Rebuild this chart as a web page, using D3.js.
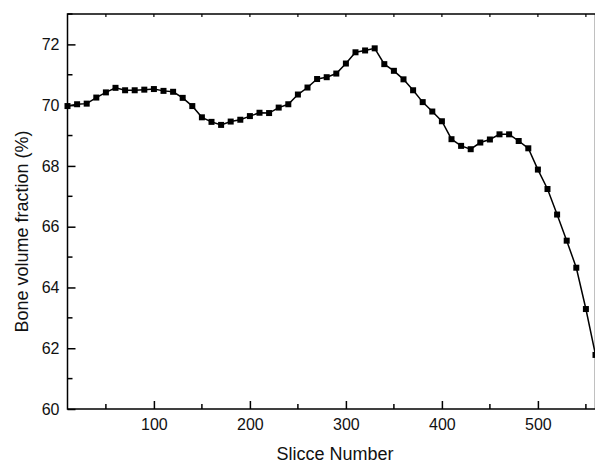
<!DOCTYPE html>
<html>
<head>
<meta charset="utf-8">
<script src="https://cdn.jsdelivr.net/npm/d3@7"></script>
<style>
  body { margin: 0; background: #fff; }
  svg { display: block; font-family: Arial, "Liberation Sans", sans-serif; }
</style>
</head>
<body>
<div id="chart"></div>
<script>
// data, one point every 10 slices
const slices = [10, 20, 30, 40, 50, 60, 70, 80, 90, 100, 110, 120, 130, 140, 150,
    160, 170, 180, 190, 200, 210, 220, 230, 240, 250, 260, 270, 280, 290, 300,
    310, 320, 330, 340, 350, 360, 370, 380, 390, 400, 410, 420, 430, 440, 450,
    460, 470, 480, 490, 500, 510, 520, 530, 540, 550, 560];
const bvf = [69.97, 70.03, 70.05, 70.25, 70.42, 70.57, 70.49, 70.49, 70.51, 70.53,
    70.47, 70.44, 70.24, 69.97, 69.6, 69.45, 69.35, 69.46, 69.52, 69.64,
    69.75, 69.74, 69.92, 70.03, 70.35, 70.58, 70.86, 70.92, 71.04, 71.37,
    71.74, 71.8, 71.87, 71.35, 71.13, 70.85, 70.49, 70.1, 69.79, 69.47,
    68.88, 68.66, 68.55, 68.77, 68.87, 69.04, 69.04, 68.82, 68.58, 67.88,
    67.24, 66.4, 65.54, 64.65, 63.29, 61.78];
const xTicks = [100, 200, 300, 400, 500];
const xMinor = [50, 150, 250, 350, 450, 550];
const yTicks = [60, 62, 64, 66, 68, 70, 72];
const yMinor = [61, 63, 65, 67, 69, 71, 73];

const width = 595;
const height = 463;
const plotLeft = 67.5;
const plotRight = 595.5;
const plotTop = 14;
const plotBottom = 409;

const data = slices.map((s, i) => ({ slice: s, value: bvf[i] }));

const svg = d3.select("#chart")
    .append("svg")
    .attr("width", width)
    .attr("height", height);

const xScale = d3.scaleLinear().domain([10, 560]).range([plotLeft, plotRight]);
const yScale = d3.scaleLinear().domain([60, 73]).range([plotBottom, plotTop]);

// frame
svg.append("rect")
    .attr("x", plotLeft).attr("y", plotTop)
    .attr("width", plotRight - plotLeft).attr("height", plotBottom - plotTop)
    .attr("fill", "none")
    .attr("stroke", "#000")
    .attr("stroke-width", 1.5);

// bottom axis, ticks pointing inward
const xAxis = d3.axisBottom(xScale)
    .tickValues(xTicks)
    .tickSizeInner(-8)
    .tickSizeOuter(0)
    .tickPadding(10);
const gx = svg.append("g")
    .attr("transform", "translate(0," + plotBottom + ")")
    .call(xAxis);
gx.selectAll("line").attr("stroke-width", 1.5);
gx.selectAll("text").attr("font-size", 16).attr("fill", "#111");

gx.selectAll(".minor")
    .data(xMinor)
    .enter()
    .append("line")
    .attr("class", "minor")
    .attr("x1", (d) => xScale(d)).attr("x2", (d) => xScale(d))
    .attr("y1", 0).attr("y2", -5)
    .attr("stroke", "#000").attr("stroke-width", 1.5);

// left axis
const yAxis = d3.axisLeft(yScale)
    .tickValues(yTicks)
    .tickSizeInner(-8)
    .tickSizeOuter(0)
    .tickPadding(8);
const gy = svg.append("g")
    .attr("transform", "translate(" + plotLeft + ",0)")
    .call(yAxis);
gy.selectAll("line").attr("stroke-width", 1.5);
gy.selectAll("text").attr("font-size", 16).attr("fill", "#111");

gy.selectAll(".minor")
    .data(yMinor)
    .enter()
    .append("line")
    .attr("class", "minor")
    .attr("y1", (d) => yScale(d)).attr("y2", (d) => yScale(d))
    .attr("x1", 0).attr("x2", 5)
    .attr("stroke", "#000").attr("stroke-width", 1.5);

svg.selectAll(".domain").remove();

// small mirrored ticks on the top edge
svg.append("g")
    .selectAll("line")
    .data(xTicks.concat(xMinor))
    .enter()
    .append("line")
    .attr("x1", (d) => xScale(d)).attr("x2", (d) => xScale(d))
    .attr("y1", plotTop).attr("y2", plotTop + 3)
    .attr("stroke", "#000").attr("stroke-width", 1.2);

// axis titles
svg.append("text")
    .attr("x", 335)
    .attr("y", 460)
    .attr("text-anchor", "middle")
    .attr("font-size", 18)
    .attr("fill", "#111")
    .text("Slicce Number");

svg.append("text")
    .attr("transform", "translate(28," + ((plotTop + plotBottom) / 2 + 20) + ")rotate(-90)")
    .attr("text-anchor", "middle")
    .attr("font-size", 18)
    .attr("fill", "#111")
    .text("Bone volume fraction (%)");

// line + square markers
const line = d3.line()
    .x((d) => xScale(d.slice))
    .y((d) => yScale(d.value));

svg.append("path")
    .datum(data)
    .attr("fill", "none")
    .attr("stroke", "#000")
    .attr("stroke-width", 1.5)
    .attr("d", line);

const size = 6;
svg.append("g")
    .selectAll("rect")
    .data(data)
    .enter()
    .append("rect")
    .attr("x", (d) => xScale(d.slice) - size / 2)
    .attr("y", (d) => yScale(d.value) - size / 2)
    .attr("width", size)
    .attr("height", size)
    .attr("fill", "#000");
</script>
</body>
</html>
